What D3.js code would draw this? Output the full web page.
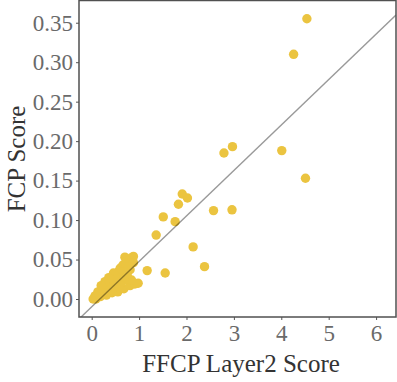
<!DOCTYPE html>
<html>
<head>
<meta charset="utf-8">
<script src="https://cdn.jsdelivr.net/npm/d3@7"></script>
<style>
  body { margin: 0; background: #fff; }
  svg { display: block; }
  svg text { font-family: "Liberation Serif", "Times New Roman", serif !important; }
</style>
</head>
<body>
<div id="chart"></div>
<script>
var width = 397;
var height = 382;

// FFCP Layer2 score (x) and FCP score (y)
var ffcpScores = [
  4.54, 4.26, 2.97, 2.79, 4.01, 4.51, 2.57, 2.96, 1.91, 2.02, 1.83, 1.51,
  1.76, 1.36, 2.14, 2.38, 1.17, 1.55,
  0.70, 0.88, 0.83, 0.77, 0.66, 0.60, 0.49, 0.43, 0.38, 0.30, 0.22, 0.13,
  0.07, 0.03, 0.09, 0.18, 0.31, 0.43, 0.55, 0.68, 0.81, 0.91, 0.98, 0.84,
  0.81, 0.75, 0.68, 0.60, 0.51, 0.39, 0.26, 0.55, 0.45, 0.34, 0.24, 0.15,
  0.72, 0.64, 0.57, 0.52, 0.46, 0.36, 0.28, 0.20, 0.88, 0.78
];
var fcpScores = [
  0.355, 0.310, 0.193, 0.185, 0.188, 0.153, 0.112, 0.113, 0.133, 0.128, 0.120, 0.104,
  0.098, 0.081, 0.066, 0.041, 0.036, 0.033,
  0.053, 0.054, 0.052, 0.048, 0.043, 0.039, 0.030, 0.028, 0.024, 0.019, 0.014, 0.009,
  0.004, 0.000, 0.000, 0.003, 0.005, 0.008, 0.009, 0.013, 0.017, 0.019, 0.020, 0.024,
  0.037, 0.030, 0.024, 0.019, 0.015, 0.011, 0.008, 0.025, 0.020, 0.015, 0.010, 0.006,
  0.045, 0.034, 0.035, 0.027, 0.033, 0.027, 0.022, 0.017, 0.046, 0.041
];

var xTicks = [0, 1, 2, 3, 4, 5, 6];
var yTicks = [0, 0.05, 0.10, 0.15, 0.20, 0.25, 0.30, 0.35];

// reference line
var lineSlope = 0.0576;
var lineIntercept = -0.0099;

var panel = { left: 79, top: 0.5, right: 396, bottom: 317 };

var x = d3.scaleLinear().domain([-0.268, 6.42]).range([panel.left, panel.right]);
var y = d3.scaleLinear().domain([-0.0228, 0.3788]).range([panel.bottom, 0]);

var svg = d3.select('#chart').append('svg')
  .attr('width', width)
  .attr('height', height);

svg.append('defs').append('clipPath').attr('id', 'clip')
  .append('rect')
  .attr('x', panel.left).attr('y', panel.top)
  .attr('width', panel.right - panel.left)
  .attr('height', panel.bottom - panel.top);

// points
svg.append('g')
  .selectAll('circle')
  .data(ffcpScores)
  .enter().append('circle')
  .attr('cx', function (d) { return x(d); })
  .attr('cy', function (d, i) { return y(fcpScores[i]); })
  .attr('r', 4.7)
  .style('fill', '#EBC440');

// diagonal line, drawn over the points
var x0 = x.domain()[0], x1 = x.domain()[1];
svg.append('line')
  .attr('clip-path', 'url(#clip)')
  .attr('x1', x(x0)).attr('y1', y(lineSlope * x0 + lineIntercept))
  .attr('x2', x(x1)).attr('y2', y(lineSlope * x1 + lineIntercept))
  .style('stroke', '#000')
  .style('stroke-opacity', 0.4)
  .style('stroke-width', 1.4);

// axes
var xAxis = svg.append('g')
  .attr('transform', 'translate(0,' + panel.bottom + ')')
  .call(d3.axisBottom(x).tickValues(xTicks).tickSize(3).tickPadding(5).tickFormat(d3.format('d')));
var yAxis = svg.append('g')
  .attr('transform', 'translate(' + panel.left + ',0)')
  .call(d3.axisLeft(y).tickValues(yTicks).tickSize(3).tickPadding(3).tickFormat(d3.format('.2f')));

[xAxis, yAxis].forEach(function (ax) {
  ax.attr('font-family', 'Liberation Serif').attr('font-size', 23);
  ax.select('.domain').remove();
  ax.selectAll('line').style('stroke', '#555').style('stroke-width', 1);
  ax.selectAll('text').style('fill', '#6a6a6a');
});

// panel border
svg.append('rect')
  .attr('x', panel.left).attr('y', panel.top)
  .attr('width', panel.right - panel.left)
  .attr('height', panel.bottom - panel.top)
  .style('fill', 'none')
  .style('stroke', '#505050')
  .style('stroke-width', 1.5);

// axis titles
svg.append('text')
  .attr('x', 241)
  .attr('y', 372)
  .attr('text-anchor', 'middle')
  .style('font-size', '25px')
  .style('fill', '#333')
  .text('FFCP Layer2 Score');

svg.append('text')
  .attr('transform', 'translate(25,159) rotate(-90)')
  .attr('text-anchor', 'middle')
  .style('font-size', '25px')
  .style('fill', '#333')
  .text('FCP Score');
</script>
</body>
</html>
